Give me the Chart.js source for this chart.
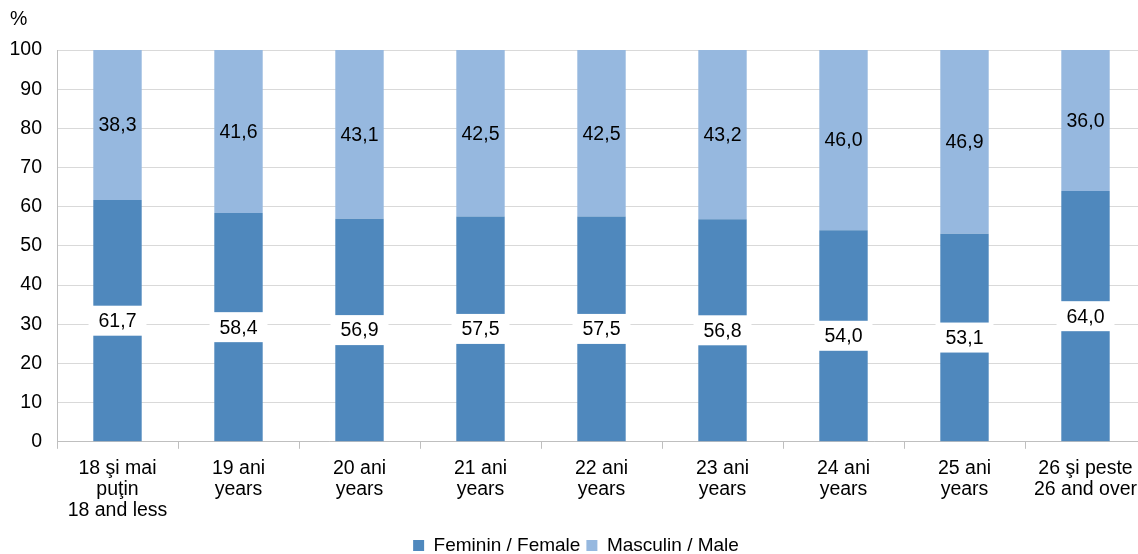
<!DOCTYPE html>
<html>
<head>
<meta charset="utf-8">
<script src="https://cdn.jsdelivr.net/npm/chart.js@4"></script>
<style>
  html, body { margin: 0; padding: 0; background: #fff; overflow: hidden; }
  #wrap { width: 1148px; height: 565px; }
</style>
</head>
<body>
<div id="wrap"><canvas id="chart"></canvas></div>
<script>
// --- Data ---
const categories = [
    ['18 şi mai', 'puţin', '18 and less'],
    ['19 ani', 'years'],
    ['20 ani', 'years'],
    ['21 ani', 'years'],
    ['22 ani', 'years'],
    ['23 ani', 'years'],
    ['24 ani', 'years'],
    ['25 ani', 'years'],
    ['26 şi peste', '26 and over']
];
const femaleValues = [61.7, 58.4, 56.9, 57.5, 57.5, 56.8, 54.0, 53.1, 64.0];
const maleValues = [38.3, 41.6, 43.1, 42.5, 42.5, 43.2, 46.0, 46.9, 36.0];
const seriesNames = ['Feminin / Female', 'Masculin / Male'];
const yTicks = [0, 10, 20, 30, 40, 50, 60, 70, 80, 90, 100];

const FONT = '"Liberation Sans", Arial, sans-serif';
const fmt = v => v.toFixed(1).replace('.', ',');

// draws value labels in the middle of each segment; female ones on a white box
const segmentLabels = {
    id: 'segmentLabels',
    afterDatasetsDraw(chart) {
        const ctx = chart.ctx;
        ctx.save();
        ctx.font = '19.5px ' + FONT;
        ctx.textAlign = 'center';
        ctx.textBaseline = 'middle';
        chart.data.datasets.forEach((ds, di) => {
            const meta = chart.getDatasetMeta(di);
            meta.data.forEach((bar, i) => {
                const y = (bar.y + bar.base) / 2;
                const txt = fmt(ds.data[i]);
                if (di === 0) {
                    const w = ctx.measureText(txt).width + 20;
                    ctx.fillStyle = '#ffffff';
                    ctx.fillRect(bar.x - w / 2, y - 15, w, 30);
                }
                ctx.fillStyle = '#000000';
                ctx.fillText(txt, bar.x, y + 1);
            });
        });
        ctx.restore();
    }
};

// "%" unit label above the y axis
const unitLabel = {
    id: 'unitLabel',
    afterDraw(chart) {
        const ctx = chart.ctx;
        const y = chart.scales.y;
        ctx.save();
        ctx.font = '19.5px ' + FONT;
        ctx.fillStyle = '#000';
        ctx.textAlign = 'left';
        ctx.textBaseline = 'middle';
        ctx.fillText('%', 10, y.top - 30);
        ctx.restore();
    }
};

new Chart(document.getElementById('chart'), {
    type: 'bar',
    data: {
        labels: categories,
        datasets: [
            {
                label: seriesNames[0],
                data: femaleValues,
                backgroundColor: '#4f88bd',
                barPercentage: 0.4,
                categoryPercentage: 1.0
            },
            {
                label: seriesNames[1],
                data: maleValues,
                backgroundColor: '#96b8df',
                barPercentage: 0.4,
                categoryPercentage: 1.0
            }
        ]
    },
    options: {
        responsive: true,
        maintainAspectRatio: false,
        animation: false,
        layout: { padding: { top: 50, right: 2, left: 6, bottom: 0 } },
        plugins: {
            legend: {
                position: 'bottom',
                labels: {
                    font: { family: FONT, size: 19 },
                    color: '#000',
                    boxWidth: 11,
                    boxHeight: 11,
                    padding: 6
                }
            },
            tooltip: { enabled: false }
        },
        scales: {
            x: {
                stacked: true,
                grid: {
                    offset: true,
                    drawOnChartArea: false,
                    drawTicks: true,
                    tickLength: 7,
                    color: '#bfbfbf'
                },
                border: { color: '#bfbfbf' },
                ticks: {
                    font: { family: FONT, size: 19.5, lineHeight: 1.08 },
                    color: '#000',
                    maxRotation: 0,
                    autoSkip: false,
                    padding: 9
                }
            },
            y: {
                stacked: true,
                min: 0,
                max: 100,
                afterBuildTicks: axis => { axis.ticks = yTicks.map(v => ({ value: v })); },
                afterFit: axis => { axis.width = 51; },
                grid: { color: '#d9d9d9', drawTicks: false },
                border: { color: '#bfbfbf' },
                ticks: {
                    font: { family: FONT, size: 19.5 },
                    color: '#000',
                    padding: 15
                }
            }
        }
    },
    plugins: [segmentLabels, unitLabel]
});
</script>
</body>
</html>
